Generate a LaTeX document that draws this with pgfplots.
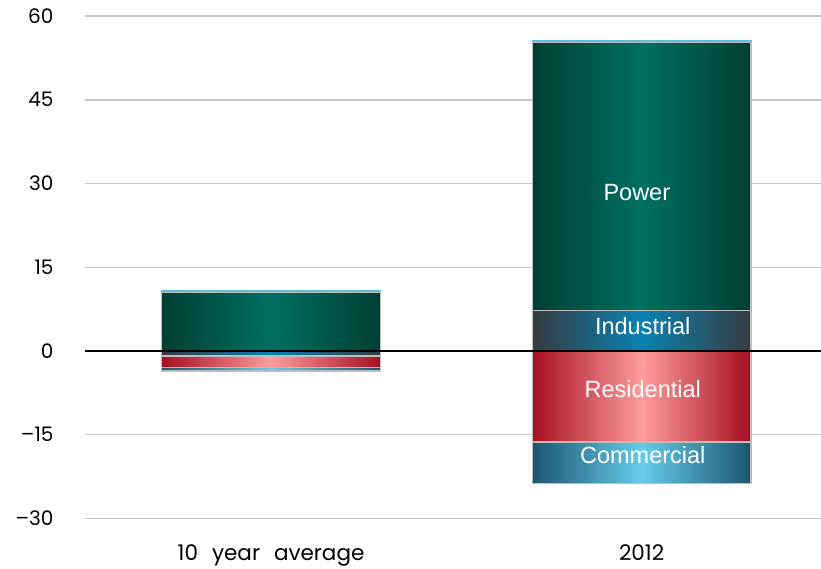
\documentclass[border=0pt]{standalone}
\usepackage{pgfplots}
\pgfplotsset{compat=1.18}
\usepackage{fontspec}
\setmainfont{Liberation Sans}
\newfontfamily\tickfont{Poppins}
\definecolor{gridgray}{HTML}{C8C8C8}
\definecolor{barborder}{HTML}{BDBDBD}
\definecolor{powerD}{HTML}{003F33}
\definecolor{powerL}{HTML}{007060}
\definecolor{indD}{HTML}{363B40}
\definecolor{indL}{HTML}{0A82B2}
\definecolor{resD}{HTML}{A50F22}
\definecolor{resL}{HTML}{FF9C9C}
\definecolor{comD}{HTML}{1C5570}
\definecolor{comL}{HTML}{66CCEA}
\definecolor{topC}{HTML}{5BC0DE}
\pgfplotsset{
  basebar/.style={
    at={(0,0)}, anchor=south west, scale only axis,
    width=736pt, height=502.5pt,
    xmin=-0.502, xmax=1.484, ymin=-30, ymax=60,
    ybar stacked, bar width=0.59,
    axis line style={draw=none}, tick style={draw=none},
  },
  layer/.style={basebar, xtick=\empty, ytick=\empty},
  pwr/.style={draw=barborder, line width=1.2pt, left color=powerD, right color=powerD, middle color=powerL},
  ind/.style={draw=barborder, line width=1.2pt, left color=indD, right color=indD, middle color=indL},
  res/.style={draw=barborder, line width=1.2pt, left color=resD, right color=resD, middle color=resL},
  com/.style={draw=barborder, line width=1.2pt, left color=comD, right color=comD, middle color=comL},
  topl/.style={draw=topC, line width=0.8pt, fill=topC},
}
\tikzset{barlab/.style={text=white, font=\fontsize{23.5}{23.5}\selectfont, anchor=center}}
\begin{document}
\begin{tikzpicture}
\path[use as bounding box] (-85pt,-50.5pt) rectangle (736pt,518.5pt);
% 10 year average, positive part
\begin{axis}[basebar,
  ytick={-30,-15,0,15,30,45,60},
  yticklabels={–30,–15,0,15,30,45,60},
  ymajorgrids, grid style={color=gridgray, line width=1.5pt},
  yticklabel style={font=\tickfont\fontsize{20}{20}\selectfont, anchor=east, xshift=-28pt},
  xtick={0,1}, xticklabels={10\hspace{14pt}year\hspace{14pt}average,2012},
  xticklabel style={font=\tickfont\fontsize{21.5}{21.5}\selectfont, anchor=base, yshift=-42pt},
]
\addplot[pwr] coordinates {(0,10.45)};
\addplot[topl] coordinates {(0,0.35)};
\end{axis}
% 10 year average, negative part
\begin{axis}[layer]
\addplot[ind] coordinates {(0,-0.9)};
\addplot[res] coordinates {(0,-2.1)};
\addplot[com] coordinates {(0,-0.6)};
\end{axis}
% 2012, positive part
\begin{axis}[layer]
\addplot[ind] coordinates {(1,7.2)};
\addplot[pwr] coordinates {(1,48.0)};
\addplot[topl] coordinates {(1,0.35)};
\end{axis}
% 2012, negative part
\begin{axis}[layer]
\addplot[res] coordinates {(1,-16.3)};
\addplot[com] coordinates {(1,-7.5)};
\end{axis}
% zero line and labels
\begin{axis}[layer, hide axis]
\draw[black, line width=1.5pt] (axis cs:-0.502,0) -- (axis cs:1.484,0);
\node[barlab] at (axis cs:0.987,28.3) {Power};
\node[barlab] at (axis cs:1.003,4.5) {Industrial};
\node[barlab] at (axis cs:1.003,-6.8) {Residential};
\node[barlab] at (axis cs:1.003,-18.6) {Commercial};
\end{axis}
\end{tikzpicture}
\end{document}
